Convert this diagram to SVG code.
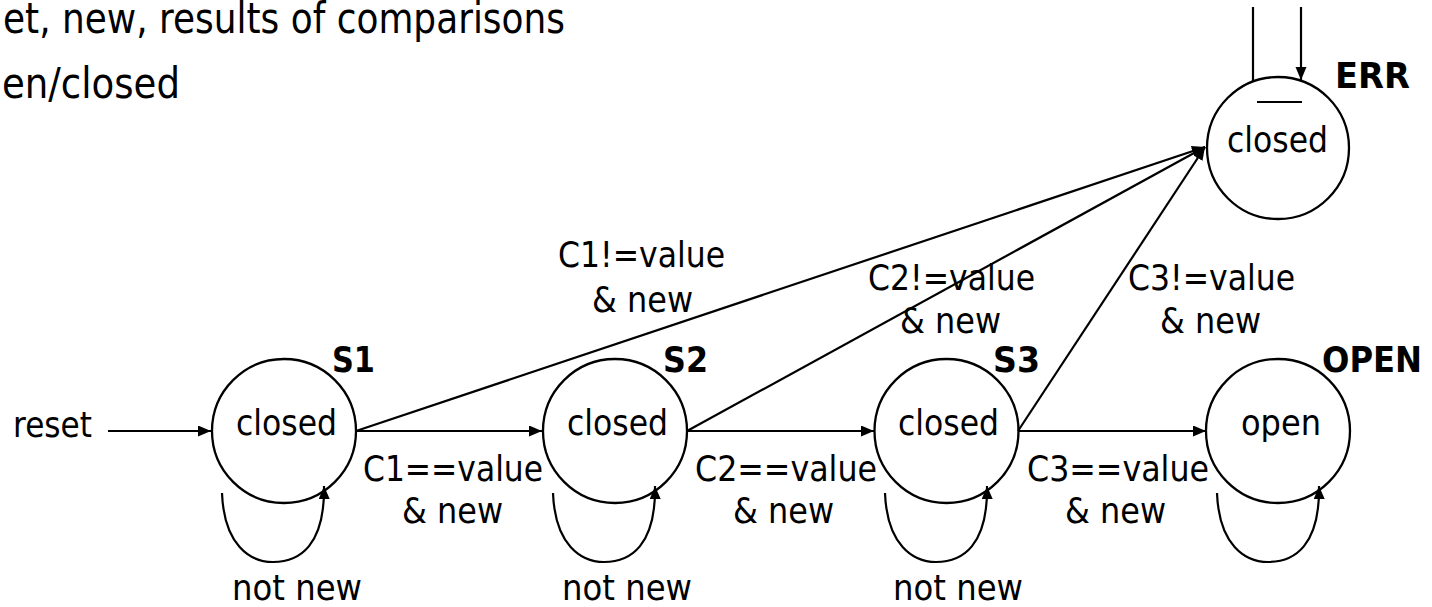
<svg xmlns="http://www.w3.org/2000/svg" width="1432" height="607" viewBox="0 0 1432 607">
  <style>
    .t { font-family: "DejaVu Sans", "Liberation Sans", sans-serif; font-size: 36px; fill: #000; }
    .head { font-size: 42px; }
    .b { font-weight: bold; }
    .state { fill: none; stroke: #000; stroke-width: 2.3; }
    .edge { fill: none; stroke: #000; stroke-width: 2.2; }
  </style>
  <defs>
    <marker id="arrow" markerUnits="userSpaceOnUse" markerWidth="15" markerHeight="12" refX="13" refY="5.5" orient="auto">
      <path d="M0,0 L13,5.5 L0,11 z" fill="#000"/>
    </marker>
  </defs>

  <rect width="1432" height="607" fill="#fff"/>

  <!-- header lines -->
  <g id="header">
    <text class="t head" x="3" y="33" textLength="562" lengthAdjust="spacingAndGlyphs">et, new, results of comparisons</text>
    <text class="t head" x="2" y="98" textLength="178" lengthAdjust="spacingAndGlyphs">en/closed</text>
  </g>

  <!-- transitions -->
  <g id="connectors">
    <!-- reset entry -->
    <line class="edge" x1="108" y1="431" x2="211" y2="431" marker-end="url(#arrow)"/>
    <!-- forward transitions -->
    <line class="edge" x1="356" y1="431" x2="542" y2="431" marker-end="url(#arrow)"/>
    <line class="edge" x1="687" y1="431" x2="874" y2="431" marker-end="url(#arrow)"/>
    <line class="edge" x1="1018" y1="431" x2="1206" y2="431" marker-end="url(#arrow)"/>
    <!-- error transitions -->
    <line class="edge" x1="356" y1="431" x2="1205" y2="147" marker-end="url(#arrow)"/>
    <line class="edge" x1="687" y1="431" x2="1205" y2="147" marker-end="url(#arrow)"/>
    <line class="edge" x1="1018" y1="431" x2="1205" y2="147" marker-end="url(#arrow)"/>
    <!-- ERR external lines -->
    <line class="edge" x1="1253" y1="7" x2="1253" y2="82"/>
    <line class="edge" x1="1301" y1="7" x2="1301" y2="80" marker-end="url(#arrow)"/>
    <!-- self loops -->
    <path class="edge" d="M222,493 C224,545 250,562 273,562 C300,562 325,545 324,486" marker-end="url(#arrow)"/>
    <path class="edge" d="M553,493 C555,545 581,562 604,562 C631,562 656,545 655,486" marker-end="url(#arrow)"/>
    <path class="edge" d="M885,493 C887,545 913,562 936,562 C963,562 988,545 987,486" marker-end="url(#arrow)"/>
    <path class="edge" d="M1217,493 C1219,545 1245,562 1268,562 C1295,562 1320,545 1319,486" marker-end="url(#arrow)"/>

    <!-- transition labels -->
    <text class="t" x="13" y="437" textLength="79" lengthAdjust="spacingAndGlyphs">reset</text>
    <text class="t" x="363" y="481" textLength="180" lengthAdjust="spacingAndGlyphs">C1==value</text>
    <text class="t" x="402" y="523" textLength="101" lengthAdjust="spacingAndGlyphs">&amp; new</text>
    <text class="t" x="695" y="481" textLength="182" lengthAdjust="spacingAndGlyphs">C2==value</text>
    <text class="t" x="733" y="523" textLength="101" lengthAdjust="spacingAndGlyphs">&amp; new</text>
    <text class="t" x="1027" y="481" textLength="182" lengthAdjust="spacingAndGlyphs">C3==value</text>
    <text class="t" x="1065" y="523" textLength="101" lengthAdjust="spacingAndGlyphs">&amp; new</text>
    <text class="t" x="558" y="267" textLength="167" lengthAdjust="spacingAndGlyphs">C1!=value</text>
    <text class="t" x="592" y="312" textLength="101" lengthAdjust="spacingAndGlyphs">&amp; new</text>
    <text class="t" x="868" y="290" textLength="167" lengthAdjust="spacingAndGlyphs">C2!=value</text>
    <text class="t" x="900" y="333" textLength="101" lengthAdjust="spacingAndGlyphs">&amp; new</text>
    <text class="t" x="1128" y="290" textLength="167" lengthAdjust="spacingAndGlyphs">C3!=value</text>
    <text class="t" x="1160" y="333" textLength="101" lengthAdjust="spacingAndGlyphs">&amp; new</text>
    <text class="t" x="232" y="600" textLength="130" lengthAdjust="spacingAndGlyphs">not new</text>
    <text class="t" x="562" y="600" textLength="130" lengthAdjust="spacingAndGlyphs">not new</text>
    <text class="t" x="893" y="600" textLength="130" lengthAdjust="spacingAndGlyphs">not new</text>
  </g>

  <!-- states -->
  <g id="S1">
    <circle class="state" cx="284" cy="431" r="72"/>
    <text class="t" x="236" y="435" textLength="101" lengthAdjust="spacingAndGlyphs">closed</text>
    <text class="t b" x="332" y="372" textLength="43" lengthAdjust="spacingAndGlyphs">S1</text>
  </g>
  <g id="S2">
    <circle class="state" cx="615" cy="431" r="72"/>
    <text class="t" x="567" y="435" textLength="101" lengthAdjust="spacingAndGlyphs">closed</text>
    <text class="t b" x="663" y="372" textLength="45" lengthAdjust="spacingAndGlyphs">S2</text>
  </g>
  <g id="S3">
    <circle class="state" cx="946.5" cy="431" r="72"/>
    <text class="t" x="898" y="435" textLength="101" lengthAdjust="spacingAndGlyphs">closed</text>
    <text class="t b" x="993" y="372" textLength="47" lengthAdjust="spacingAndGlyphs">S3</text>
  </g>
  <g id="OPEN">
    <circle class="state" cx="1278" cy="431" r="72"/>
    <text class="t" x="1241" y="435" textLength="80" lengthAdjust="spacingAndGlyphs">open</text>
    <text class="t b" x="1322" y="372" textLength="100" lengthAdjust="spacingAndGlyphs">OPEN</text>
  </g>
  <g id="ERR">
    <circle class="state" cx="1278" cy="148" r="71"/>
    <line class="edge" x1="1257" y1="102" x2="1302" y2="102"/>
    <text class="t" x="1227" y="152" textLength="101" lengthAdjust="spacingAndGlyphs">closed</text>
    <text class="t b" x="1335" y="88" textLength="75" lengthAdjust="spacingAndGlyphs">ERR</text>
  </g>
</svg>
